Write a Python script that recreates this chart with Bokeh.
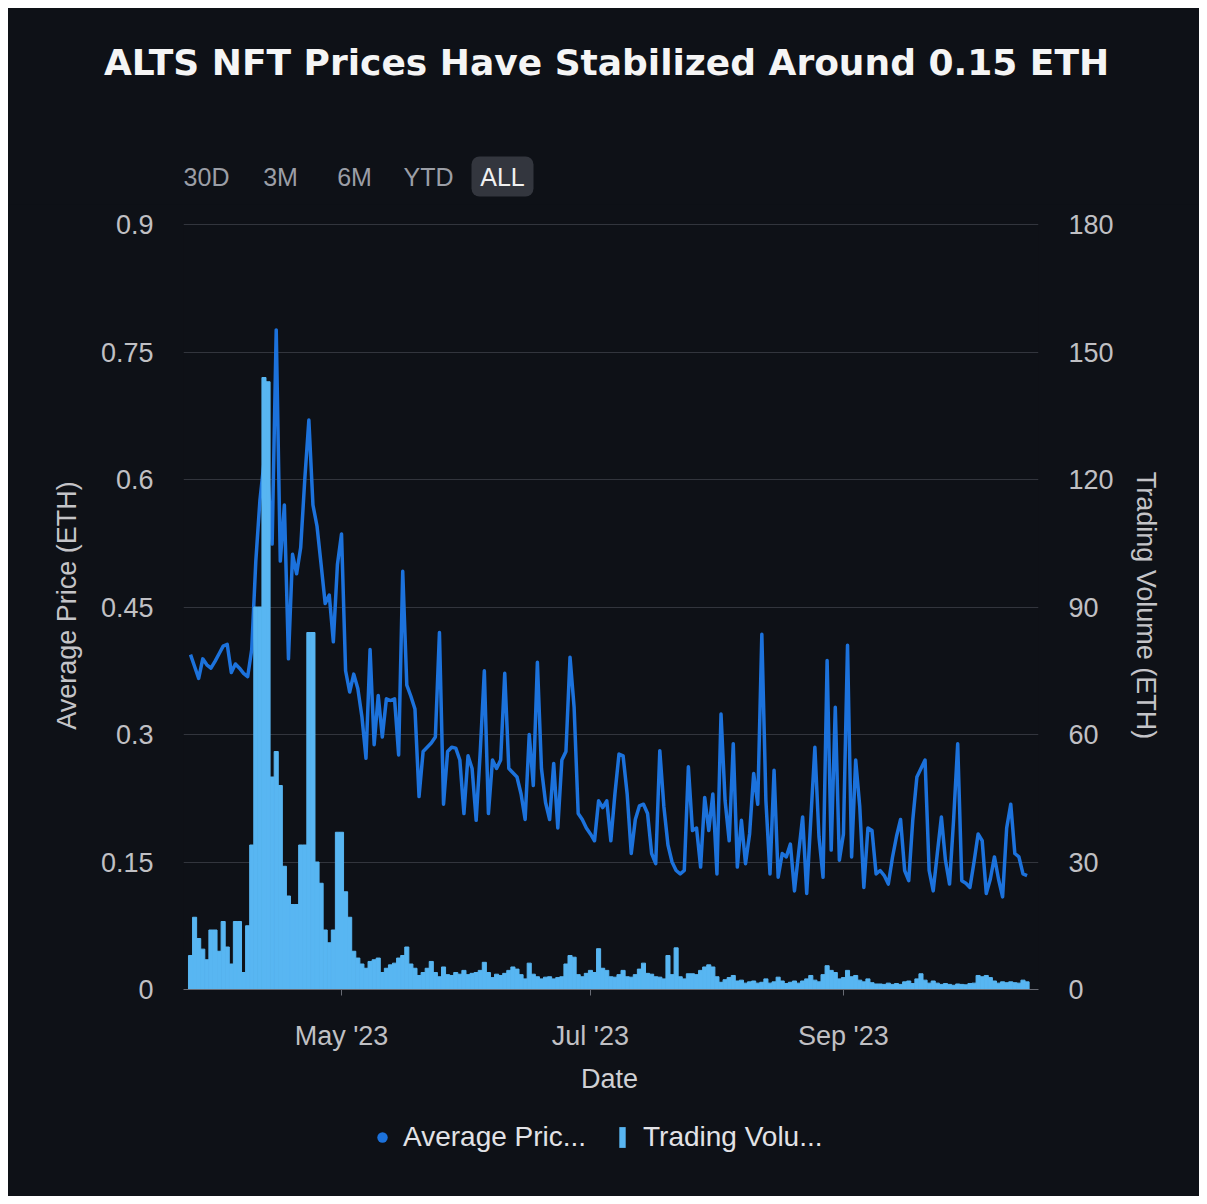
import pandas as pd
from bokeh.plotting import figure
from bokeh.layouts import column
from bokeh.models import (Range1d, LinearAxis, FixedTicker, DatetimeTickFormatter,
                          CustomJSTickFormatter, Label, BoxAnnotation, Legend, LegendItem)
from bokeh.embed import file_html
from bokeh.resources import INLINE

# ---------------- data ----------------
start_date = "2023-03-25"
avg_price = [
    0.394, 0.38, 0.366, 0.389, 0.382, 0.378, 0.386, 0.395, 0.404, 0.406,
    0.373, 0.383, 0.378, 0.372, 0.368, 0.40, 0.504, 0.575, 0.62, 0.60,
    0.524, 0.776, 0.504, 0.57, 0.389, 0.512, 0.489, 0.52, 0.60, 0.670,
    0.57, 0.545, 0.50, 0.454, 0.464, 0.409, 0.50, 0.536, 0.375, 0.350,
    0.371, 0.354, 0.321, 0.272, 0.40, 0.288, 0.346, 0.297, 0.342, 0.340,
    0.342, 0.276, 0.492, 0.358, 0.345, 0.33, 0.227, 0.28, 0.285, 0.29,
    0.297, 0.42, 0.218, 0.28, 0.285, 0.284, 0.27, 0.207, 0.275, 0.26,
    0.199, 0.28, 0.375, 0.207, 0.27, 0.26, 0.27, 0.372, 0.26, 0.255,
    0.25, 0.23, 0.20, 0.30, 0.24, 0.385, 0.26, 0.22, 0.20, 0.266,
    0.19, 0.27, 0.28, 0.391, 0.332, 0.207, 0.20, 0.19, 0.183, 0.175,
    0.222, 0.214, 0.222, 0.175, 0.23, 0.277, 0.275, 0.23, 0.16, 0.20,
    0.216, 0.218, 0.207, 0.16, 0.148, 0.281, 0.215, 0.17, 0.15, 0.14,
    0.136, 0.14, 0.262, 0.187, 0.19, 0.144, 0.226, 0.187, 0.23, 0.136,
    0.324, 0.222, 0.175, 0.289, 0.144, 0.199, 0.148, 0.183, 0.254, 0.218,
    0.418, 0.222, 0.136, 0.258, 0.132, 0.16, 0.156, 0.171, 0.116, 0.16,
    0.203, 0.113, 0.20, 0.285, 0.18, 0.132, 0.387, 0.164, 0.332, 0.152,
    0.183, 0.405, 0.156, 0.27, 0.215, 0.12, 0.19, 0.187, 0.136, 0.14,
    0.134, 0.124, 0.155, 0.18, 0.20, 0.14, 0.128, 0.20, 0.25, 0.26,
    0.27, 0.14, 0.116, 0.16, 0.203, 0.152, 0.124, 0.20, 0.289, 0.128,
    0.125, 0.12, 0.15, 0.183, 0.175, 0.113, 0.13, 0.156, 0.13, 0.109,
    0.19, 0.218, 0.16, 0.156, 0.136, 0.134,
]
trading_volume = [
    8, 17, 12, 9.5, 7, 14, 14, 9, 16, 10,
    6, 16, 16, 4, 15, 34, 90, 90, 144, 143,
    50, 56, 48, 29, 22, 20, 20, 34, 34, 84,
    84, 30, 25, 14, 11, 14, 37, 37, 23, 17,
    9, 7.4, 6, 5, 6.6, 7, 7.4, 4, 5, 5.8,
    6.2, 7.4, 8, 10, 6, 5, 3.3, 4, 5, 6.6,
    4, 3, 5.3, 3.5, 3.3, 4, 3.6, 4.5, 3.5, 3.8,
    4, 4.5, 6.4, 4, 2.8, 3.6, 3.3, 3.8, 4.5, 5.3,
    4.8, 3.5, 2.5, 6.2, 3.6, 3, 2.5, 2.9, 3, 2.5,
    2.8, 3, 6, 8, 7.6, 3.5, 3, 3.8, 4.5, 4,
    9.6, 5, 4.5, 3, 2.9, 3.5, 4.5, 3, 2.9, 3.5,
    4.8, 6.2, 3.8, 3.6, 3, 2.9, 2.5, 8, 3.5, 9.8,
    3, 2.5, 3.7, 3.7, 3.5, 4.5, 5.3, 5.8, 5.3, 3,
    1.7, 2.3, 2.8, 3.3, 2, 2.2, 1.5, 1.8, 2, 1.5,
    1.7, 2.5, 1.5, 1.8, 2.9, 2, 1.4, 1.7, 2, 1.5,
    2, 2.5, 3.3, 2.2, 1.8, 3.5, 5.6, 4.5, 4, 2.5,
    2.8, 4.5, 3, 3.3, 2.2, 1.8, 2.5, 1.6, 1.3, 1.3,
    1.2, 1.5, 1.2, 1.4, 1.2, 1.8, 2, 1.4, 2.5, 3.7,
    2.2, 1.5, 2, 1.5, 1.2, 1.4, 1.2, 1.0, 1.3, 1.2,
    1.1, 1.4, 1.5, 3.3, 3, 3.3, 2.8, 2, 1.5, 1.8,
    1.6, 1.8, 1.6, 1.5, 2.2, 1.8,
]
dates = pd.date_range(start_date, periods=len(avg_price), freq="D")
price_ticks = [0, 0.15, 0.3, 0.45, 0.6, 0.75, 0.9]
volume_ticks = [0, 30, 60, 90, 120, 150, 180]
date_ticks = ["2023-05-01", "2023-07-01", "2023-09-01"]
range_buttons = ["30D", "3M", "6M", "YTD", "ALL"]
title_text = "ALTS NFT Prices Have Stabilized Around 0.15 ETH"
legend_labels = ["Average Pric...", "Trading Volu..."]
x_title = "Date"
y_title_left = "Average Price (ETH)"
y_title_right = "Trading Volume (ETH)"

# ---------------- style / layout ----------------
BG = "#0e1117"
LINE = "#1c72dc"
BAR = "#58b6f2"
GRID = "#32353d"
TICK = "#c0c0c4"
FONT = "Liberation Sans"
W = 1191
M = 8                        # page margin
FL, FR, FB = 183, 1038, 989  # main frame edges (page px)
TOP_GRID = 224               # page y of the 0.9 / 180 gridline
FT = 221                     # frame top, a little above the top gridline
MAIN_TOP = 204               # page y where the main figure starts
MAIN_BOTTOM = 1056           # page y where the main figure ends
CARD_BOTTOM = 1196           # page y where the card ends
PRICE_MAX, VOL_MAX = 0.9, 180
y_end = PRICE_MAX * (FB - FT) / (FB - TOP_GRID)
v_end = VOL_MAX * (FB - FT) / (FB - TOP_GRID)

DAY_MS = 86400000.0
t0 = dates[0].value / 1e6
x_start = t0 - 1.72 * DAY_MS
x_end = t0 + 207.8 * DAY_MS


def no_align(f):
    try:
        f.frame_align = False
    except AttributeError:
        pass


def blank_fig(height):
    f = figure(width=W, height=height, output_backend="svg", toolbar_location=None,
               x_range=Range1d(0, W), y_range=Range1d(0, height),
               x_axis_location=None, y_axis_location=None, title_location=None,
               min_border=0, background_fill_color=None, border_fill_color=BG)
    f.outline_line_color = None
    f.grid.visible = False
    no_align(f)
    return f


def lab(f, top_py, height, text, px, py, size, color, font=FONT, style="normal",
        align="center"):
    f.add_layout(Label(x=px - M, y=top_py + height - py, text=text, text_font=font,
                       text_font_size=f"{size}px", text_font_style=style,
                       text_color=color, text_align=align, text_baseline="middle"))


# ---------- top strip: title + range selector ----------
TOP_H = MAIN_TOP - M
top = blank_fig(TOP_H)
lab(top, M, TOP_H, title_text, 606, 62, 36, "#f5f5f5", font="DejaVu Sans", style="bold")
top.add_layout(BoxAnnotation(left=471 - M, right=533 - M,
                             top=MAIN_TOP - 156, bottom=MAIN_TOP - 196,
                             fill_color="#33363e", fill_alpha=1.0, line_color=None,
                             border_radius=8))
btn_x = [206, 280, 354, 428, 502]
for name, bx in zip(range_buttons, btn_x):
    lab(top, M, TOP_H, name, bx, 176, 25, "#f0f0f0" if name == "ALL" else "#9b9ea6")

# ---------- main chart ----------
p = figure(width=W, height=MAIN_BOTTOM - MAIN_TOP, x_axis_type="datetime",
           output_backend="svg", toolbar_location=None, title_location=None,
           x_range=Range1d(x_start, x_end), y_range=Range1d(0, y_end),
           min_border_left=FL - M, min_border_right=W - (FR - M),
           min_border_top=FT - MAIN_TOP, min_border_bottom=MAIN_BOTTOM - FB,
           background_fill_color=None, border_fill_color=BG)
p.outline_line_color = None
no_align(p)
p.extra_y_ranges = {"vol": Range1d(0, v_end)}

p.line(x=dates, y=avg_price, line_color=LINE, line_width=3.5, line_join="round")
p.vbar(x=dates, top=trading_volume, width=DAY_MS, y_range_name="vol",
       fill_color=BAR, line_color=BAR, line_width=1)

vol_axis = LinearAxis(y_range_name="vol")
p.add_layout(vol_axis, "right")
left_axis = p.yaxis[0] if p.yaxis[0] is not vol_axis else p.yaxis[1]

p.xaxis.ticker = FixedTicker(ticks=[pd.Timestamp(d).value / 1e6 for d in date_ticks])
fmt = "%b '%y"
p.xaxis.formatter = DatetimeTickFormatter(days=fmt, months=fmt, years=fmt, hours=fmt,
                                          hourmin=fmt, minutes=fmt, minsec=fmt,
                                          seconds=fmt, milliseconds=fmt, microseconds=fmt)
left_axis.ticker = FixedTicker(ticks=price_ticks)
left_axis.formatter = CustomJSTickFormatter(code="return String(tick);")
vol_axis.ticker = FixedTicker(ticks=volume_ticks)
vol_axis.formatter = CustomJSTickFormatter(code="return String(tick);")

for ax in [p.xaxis[0], left_axis, vol_axis]:
    ax.minor_tick_line_color = None
    ax.major_label_text_font = FONT
    ax.major_label_text_font_size = "27px"
    ax.major_label_text_color = TICK
    ax.axis_label_text_font = FONT
    ax.axis_label_text_font_size = "27px"
    ax.axis_label_text_font_style = "normal"
    ax.axis_label_text_color = "#c4c4c8"
for ax in [left_axis, vol_axis]:
    ax.axis_line_color = None
    ax.major_tick_line_color = None
    ax.major_tick_out = 0
    ax.major_tick_in = 0
    ax.major_label_standoff = 30
left_axis.axis_label = y_title_left
left_axis.axis_label_standoff = 16
vol_axis.axis_label = y_title_right
vol_axis.axis_label_standoff = 14

p.xaxis.axis_line_color = "#686b74"
p.xaxis.major_tick_line_color = "#686b74"
p.xaxis.major_tick_out = 6
p.xaxis.major_tick_in = 0
p.xaxis.major_label_standoff = 25

p.xgrid.grid_line_color = None
p.ygrid.grid_line_color = GRID
p.ygrid.grid_line_width = 1

# ---------- bottom strip: x title + legend ----------
BOT_H = CARD_BOTTOM - MAIN_BOTTOM
bot = blank_fig(BOT_H)
lab(bot, MAIN_BOTTOM, BOT_H, x_title, 609, 1078, 27, "#d0d0d4")
first_x = dates[:1].astype("int64") // 10**6
dot_r = bot.scatter(x=first_x, y=avg_price[:1], size=10, marker="circle",
                    fill_color=LINE, line_color=None, visible=False)
bar_r = bot.vbar(x=first_x, top=trading_volume[:1], width=1,
                 fill_color=BAR, line_color=None, visible=False)
legend_y = CARD_BOTTOM - 1153
common = dict(orientation="horizontal", label_text_font=FONT, label_text_font_size="28px",
              label_text_color="#e2e2e6", background_fill_alpha=0,
              border_line_color=None, margin=0, padding=0, glyph_height=26)
bot.add_layout(Legend(items=[LegendItem(label=legend_labels[0], renderers=[dot_r])],
                      location=(369 - M, legend_y), glyph_width=26, label_standoff=8,
                      **common))
bot.add_layout(Legend(items=[LegendItem(label=legend_labels[1], renderers=[bar_r])],
                      location=(618 - M, legend_y), glyph_width=8, label_standoff=17,
                      **common))

layout = column(top, p, bot, spacing=0, margin=(M, M, M, M),
                styles={"background-color": BG})
open("out.html", "w").write(file_html(layout, INLINE))
